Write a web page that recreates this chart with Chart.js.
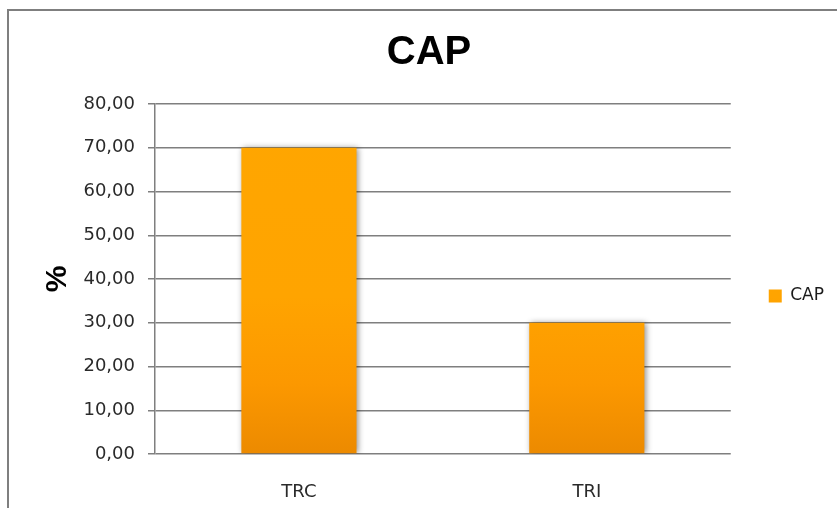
<!DOCTYPE html>
<html>
<head>
<meta charset="utf-8">
<script src="https://cdn.jsdelivr.net/npm/chart.js@4/dist/chart.umd.min.js"></script>
<style>
  body { margin: 0; background: #fff; }
  #wrap { position: relative; width: 837px; height: 508px; overflow: hidden; }
  #frame { position: absolute; left: 7px; top: 9px; width: 900px; height: 600px; border: 2px solid #7f7f7f; pointer-events: none; }
</style>
</head>
<body>
<div id="wrap">
  <canvas id="chart" width="837" height="508"></canvas>
  <div id="frame"></div>
</div>
<script>
const categories = ['TRC', 'TRI'];
const capValues = [70, 30];
const seriesName = 'CAP';
const yMin = 0, yMax = 80, yStep = 10;

// degradado naranja de las barras (mas oscuro abajo)
function barFill(context) {
    const area = context.chart.chartArea;
    if (!area) return '#FFA500';
    const g = context.chart.ctx.createLinearGradient(0, area.top, 0, area.bottom);
    g.addColorStop(0, '#FFA600');
    g.addColorStop(0.55, '#FFA400');
    g.addColorStop(0.8, '#FC9800');
    g.addColorStop(1, '#EC8A00');
    return g;
}

// sombra suave alrededor de las barras
const barShadow = {
    id: 'barShadow',
    beforeDatasetDraw(chart) {
        const ctx = chart.ctx;
        ctx.save();
        ctx.shadowColor = 'rgba(0,0,0,0.45)';
        ctx.shadowBlur = 6;
        ctx.shadowOffsetX = 1.5;
        ctx.shadowOffsetY = 0;
    },
    afterDatasetDraw(chart) {
        chart.ctx.restore();
    }
};

// ajustar posicion de titulo y leyenda
const boxShift = {
    id: 'boxShift',
    afterLayout(chart) {
        chart.legend.top += 42;
        chart.legend.bottom += 42;
        chart.titleBlock.left += 16;
    }
};

const ctx = document.getElementById('chart').getContext('2d');
new Chart(ctx, {
    type: 'bar',
    data: {
        labels: categories,
        datasets: [{
            label: seriesName,
            data: capValues,
            backgroundColor: barFill,
            borderWidth: 0,
            categoryPercentage: 0.8,
            barPercentage: 0.5
        }]
    },
    options: {
        responsive: false,
        animation: false,
        layout: { padding: { left: 8, right: 3, top: 0, bottom: 0 } },
        plugins: {
            title: {
                display: true,
                text: 'CAP',
                color: '#000',
                font: { family: 'Liberation Sans', size: 40, weight: 'bold' },
                padding: { top: 29, bottom: 27 }
            },
            legend: {
                position: 'right',
                labels: {
                    boxWidth: 13,
                    boxHeight: 13,
                    padding: 38,
                    color: '#1a1a1a',
                    font: { family: 'DejaVu Sans', size: 17 }
                }
            },
            tooltip: { enabled: false }
        },
        scales: {
            x: {
                grid: { display: false },
                border: { display: false },
                ticks: {
                    color: '#2a2a2a',
                    padding: 20,
                    font: { family: 'DejaVu Sans', size: 18 }
                },
                afterFit(scale) { scale.height = 54; }
            },
            y: {
                min: yMin,
                max: yMax,
                grid: { color: '#7f7f7f', lineWidth: 1.5, tickLength: 7 },
                border: { color: '#7f7f7f', width: 1.5 },
                ticks: {
                    stepSize: yStep,
                    color: '#2a2a2a',
                    padding: 13,
                    font: { family: 'DejaVu Sans', size: 18 },
                    callback: v => v.toFixed(2).replace('.', ',')
                },
                title: {
                    display: true,
                    text: '%',
                    color: '#000',
                    font: { family: 'Liberation Sans', size: 30, weight: 'bold' },
                    padding: { top: 32, bottom: 0 }
                },
                afterFit(scale) { scale.width = 147; }
            }
        }
    },
    plugins: [barShadow, boxShift]
});
</script>
</body>
</html>
